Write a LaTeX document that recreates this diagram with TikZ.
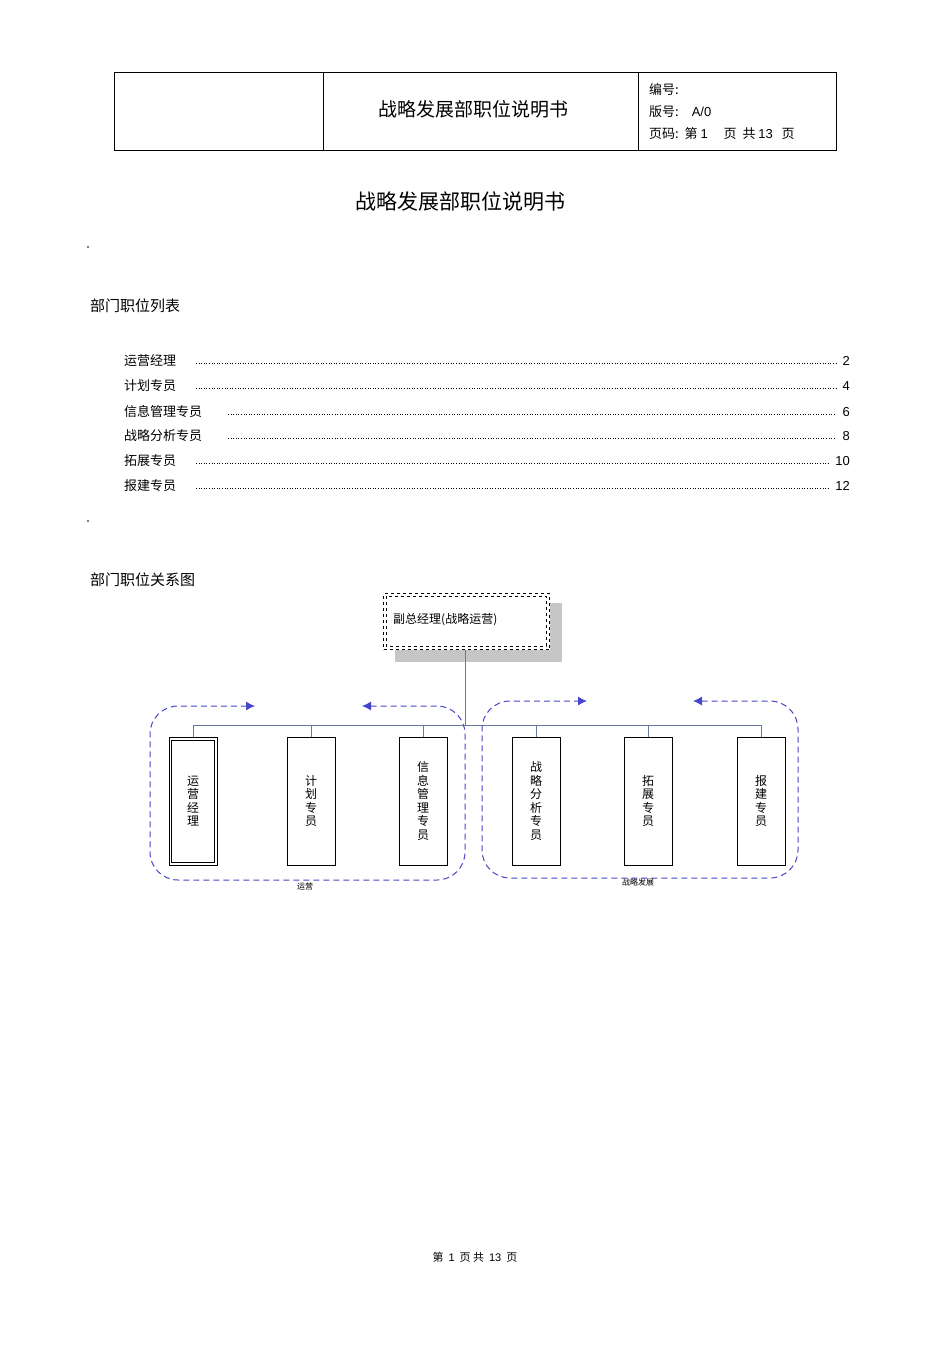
\documentclass[tikz,border=0pt]{standalone}
\usepackage{fontspec}
\setmainfont{Noto Sans CJK SC}
\newfontfamily\latinf{Liberation Sans}
\usetikzlibrary{arrows.meta}
\tikzset{
 lbl/.style={inner sep=0pt,anchor=west,yshift=-3pt},
 vbox/.style={draw,minimum width=48pt,minimum height=128pt,inner sep=0pt,align=center,font=\fontsize{12}{13.5}\selectfont,anchor=north},
 loop/.style={draw={rgb,255:red,70;green,70;blue,200},dashed,line width=1pt,dash pattern=on 6pt off 4pt,rounded corners=28pt,{Latex[length=9pt,width=9pt]}-{Latex[length=9pt,width=9pt]}},
 conn/.style={draw={rgb,255:red,100;green,120;blue,160},line width=0.9pt}
}
\begin{document}
\begin{tikzpicture}[x=1pt,y=-1pt]
\useasboundingbox (0,0) rectangle (950,1345);
% header
\draw[line width=0.8pt] (114,72) rectangle (836,150);
\draw[line width=0.8pt] (323,72) -- (323,150) (638,72) -- (638,150);
\node (htitle) at (473,109) {\fontsize{19}{20}\selectfont 战略发展部职位说明书};
\node[lbl] (h1) at (649,87) {\fontsize{13}{14}\selectfont 编号:};
\node[lbl] (h2) at (649,109) {\fontsize{13}{14}\selectfont 版号:\quad{\latinf A/0}};
\node[lbl] (h3) at (649,131) {\fontsize{13}{14}\selectfont 页码:\ \ 第 {\latinf 1}\quad\ 页\ \ 共 {\latinf 13}\ \ \ 页};
\node (title) at (460,202) {\fontsize{21}{22}\selectfont 战略发展部职位说明书};
\fill (88,247) circle (0.8pt);
\fill (88,521) circle (0.8pt);
\node[lbl] (s1) at (90,303) {\fontsize{15}{16}\selectfont 部门职位列表};
\foreach \t/\n/\y/\xs/\xe in {运营经理/2/358/196/836,计划专员/4/383/196/836,信息管理专员/6/409/228/836,战略分析专员/8/433/228/836,拓展专员/10/458/196/828,报建专员/12/483/196/828}{
  \node[lbl] at (124,\y) {\fontsize{13}{14}\selectfont \t};
  \node[anchor=east,inner sep=0pt,yshift=-3pt] at (850,\y) {\fontsize{13}{14}\selectfont\latinf \n};
  \draw[dotted,line width=0.6pt] (\xs,\y+5) -- (\xe,\y+5);
}
\node[lbl] (s2) at (90,577) {\fontsize{15}{16}\selectfont 部门职位关系图};
% chart
\fill[gray!45] (395,603) rectangle (562,662);
\node[draw,dashed,line width=1pt,fill=white,minimum width=166pt,minimum height=56pt,anchor=north west] (top) at (383,593) {};
\draw[dashed,line width=0.6pt] (386,596) rectangle (546,646);
\node[lbl] at (393,617) {\fontsize{12}{13}\selectfont 副总经理(战略运营)};
\coordinate (j) at (465,725);
\draw[conn] (top.south -| j) -- (j);
\draw[conn] (193,725) -- (762,725);
\foreach \nm/\x/\t in {a/193/运\\营\\经\\理,b/311/计\\划\\专\\员,c/423/信\\息\\管\\理\\专\\员,d/536/战\\略\\分\\析\\专\\员,e/648/拓\\展\\专\\员,f/761/报\\建\\专\\员}{
  \node[vbox] (\nm) at (\x,737) {\t};
  \draw[conn] (\x,725) -- (\nm.north);
}
\draw[line width=0.8pt] ([xshift=3pt,yshift=-3pt]a.north west) rectangle ([xshift=-3pt,yshift=3pt]a.south east);
\draw[loop] (362,706) -- (465,706) -- (465,880) -- (150,880) -- (150,706) -- (255,706);
\draw[loop] (693,701) -- (798,701) -- (798,878) -- (482,878) -- (482,701) -- (587,701);
\node (g1) at (305,886) {\fontsize{8}{9}\selectfont 运营};
\node (g2) at (638,882) {\fontsize{8}{9}\selectfont 战略发展};
\node (foot) at (475,1257) {\fontsize{11}{12}\selectfont 第\ \ {\latinf 1}\ \ 页\ 共\ \ {\latinf 13}\ \ 页};
\end{tikzpicture}
\end{document}
